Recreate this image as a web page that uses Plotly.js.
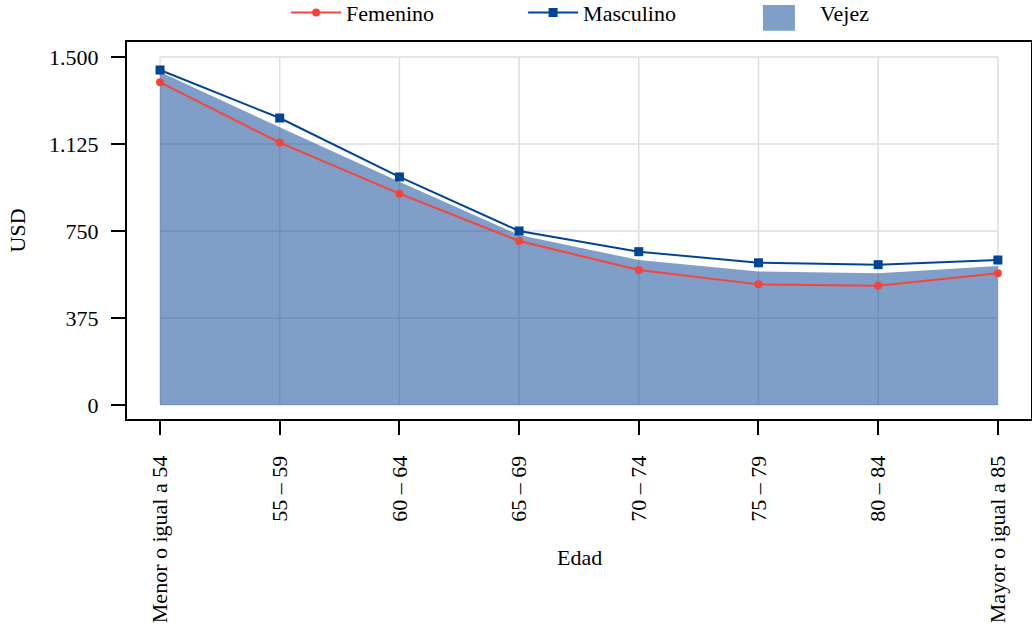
<!DOCTYPE html>
<html>
<head>
<meta charset="utf-8">
<script src="https://cdn.plot.ly/plotly-3.0.1.min.js"></script>
<style>html,body{margin:0;padding:0;background:#fff;}#chart{width:1032px;height:630px;}</style>
</head>
<body>
<div id="chart"></div>
<script>
const categories = ["Menor o igual a 54", "55 – 59", "60 – 64", "65 – 69", "70 – 74", "75 – 79", "80 – 84", "Mayor o igual a 85"];
const femenino = [1391, 1131, 911, 707, 582, 520, 514, 568];
const masculino = [1444, 1237, 983, 750, 661, 613, 605, 625];
const vejez = [1435, 1197, 962, 733, 625, 576, 568, 599];
const yTickVals = [0, 375, 750, 1125, 1500];
const yTickText = ["0", "375", "750", "1.125", "1.500"];

const xIdx = categories.map((c, i) => i);
const font = {family: "Liberation Serif", size: 22, color: "#000"};
const areaColor = "rgba(0,64,145,0.5)";

const traces = [
  {x: xIdx, y: vejez, name: "Vejez", type: "scatter", mode: "none", fill: "tozeroy",
   fillcolor: areaColor, showlegend: false},
  {x: xIdx, y: femenino, name: "Femenino", type: "scatter", mode: "lines+markers", legendrank: 1,
   line: {color: "#f5443b", width: 2}, marker: {color: "#f5443b", size: 8, symbol: "circle"}},
  {x: xIdx, y: masculino, name: "Masculino", type: "scatter", mode: "lines+markers", legendrank: 2,
   line: {color: "#004494", width: 2}, marker: {color: "#004494", size: 9, symbol: "square"}},
  {x: [null], y: [null], name: "Vejez", type: "scatter", mode: "lines", legendrank: 3,
   line: {color: "rgba(0,0,0,0)", width: 0}}
];

const shapes = [];
yTickVals.forEach(v => shapes.push({type: "line", layer: "below", xref: "x", yref: "y",
  x0: 0, x1: categories.length - 1, y0: v, y1: v, line: {color: "#dedede", width: 1.5}}));
xIdx.forEach(i => shapes.push({type: "line", layer: "below", xref: "x", yref: "y",
  x0: i, x1: i, y0: 0, y1: yTickVals[yTickVals.length - 1], line: {color: "#dedede", width: 1.5}}));
// legend key box for the area series
shapes.push({type: "rect", layer: "above", xref: "paper", yref: "paper",
  x0: 0.7035, x1: 0.7389, y0: 1.030, y1: 1.098, fillcolor: areaColor, line: {width: 0}});

const layout = {
  width: 1032, height: 630,
  margin: {l: 127, r: 1, t: 42, b: 211, autoexpand: false},
  paper_bgcolor: "#fff", plot_bgcolor: "#fff",
  font: font,
  showlegend: true,
  legend: {orientation: "h", xref: "paper", yref: "container", x: 0.176, y: 0.98,
    xanchor: "left", yanchor: "middle", font: font, entrywidth: 172, itemwidth: 50,
    traceorder: "normal", bgcolor: "rgba(0,0,0,0)"},
  xaxis: {range: [-0.276, 7.277], tickvals: xIdx, ticktext: categories, tickangle: -90,
    showgrid: false, zeroline: false, showline: true, mirror: true, linecolor: "#000", linewidth: 2,
    ticks: "outside", ticklen: 14, tickwidth: 2, tickcolor: "#000", tickfont: font,
    ticklabelstandoff: 12, fixedrange: true, automargin: false},
  yaxis: {range: [-60.3, 1564.7], tickvals: yTickVals, ticktext: yTickText,
    showgrid: false, zeroline: false, showline: true, mirror: true, linecolor: "#000", linewidth: 2,
    ticks: "outside", ticklen: 14, tickwidth: 2, tickcolor: "#000", tickfont: font,
    ticklabelstandoff: 8, fixedrange: true, automargin: false},
  shapes: shapes,
  annotations: [
    {text: "Edad", xref: "paper", yref: "paper", x: 0.5, y: -0.3687, xanchor: "center", yanchor: "middle",
     showarrow: false, font: font},
    {text: "USD", xref: "paper", yref: "paper", x: -0.1206, y: 0.5, xanchor: "center", yanchor: "middle",
     textangle: -90, showarrow: false, font: font}
  ]
};

Plotly.newPlot("chart", traces, layout, {displayModeBar: false, staticPlot: true});
</script>
</body>
</html>
